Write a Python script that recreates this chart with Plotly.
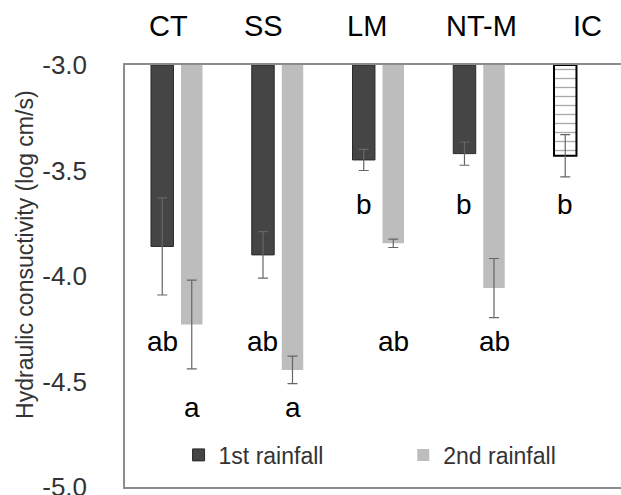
import plotly.graph_objects as go

categories = ["CT", "SS", "LM", "NT-M", "IC"]
first_rain = [-3.86, -3.90, -3.45, -3.42]
first_err = [0.23, 0.11, 0.05, 0.055]
second_rain = [-4.23, -4.445, -3.845, -4.057]
second_err = [0.21, 0.065, 0.02, 0.14]
ic_value = [-3.43]
ic_err = [0.10]
letters_first = ["ab", "ab", "b", "b", "b"]
letters_first_y = [-4.31, -4.31, -3.66, -3.66, -3.66]
letters_second = ["a", "a", "ab", "ab"]
letters_second_y = [-4.625, -4.625, -4.31, -4.31]
y_ticks = [-3.0, -3.5, -4.0, -4.5, -5.0]
y_tick_labels = ["-3.0", "-3.5", "-4.0", "-4.5", "-5.0"]
base_level = -3.0

FONT = "Liberation Sans, Arial, sans-serif"
DARK_W, DARK_OFF = 0.223, -0.263
LIGHT_W, LIGHT_OFF = 0.213, 0.035
idx = list(range(len(categories)))

fig = go.Figure()
err_style = dict(type="data", color="#666666", thickness=1.2, width=5)

fig.add_trace(go.Bar(
    x=idx[:4], y=[v - base_level for v in first_rain], base=base_level,
    name="1st rainfall", width=DARK_W, offset=DARK_OFF, legend="legend",
    marker=dict(color="#454545", line=dict(color="#2a2a2a", width=1)),
    error_y=dict(array=first_err, **err_style),
))
fig.add_trace(go.Bar(
    x=idx[:4], y=[v - base_level for v in second_rain], base=base_level,
    name="2nd rainfall", width=LIGHT_W, offset=LIGHT_OFF, legend="legend2",
    marker=dict(color="#bdbdbd", line=dict(width=0)),
    error_y=dict(array=second_err, **err_style),
))
fig.add_trace(go.Bar(
    x=idx[4:], y=[v - base_level for v in ic_value], base=base_level,
    name="IC", showlegend=False, width=DARK_W, offset=DARK_OFF,
    marker=dict(color="white", line=dict(color="black", width=2),
                pattern=dict(shape="-", fgcolor="#555555", bgcolor="white",
                             size=9, solidity=0.15)),
    error_y=dict(array=ic_err, **err_style),
))

annotations = []
cat_xshift = [-9, -15, -12, 2, 7]
for i, c in enumerate(categories):
    annotations.append(dict(x=i, y=1, xref="x", yref="paper", text=c,
                            showarrow=False, yshift=39, xshift=cat_xshift[i],
                            xanchor="center", yanchor="middle",
                            font=dict(family=FONT, size=29, color="black")))
for i, t in enumerate(letters_first):
    annotations.append(dict(x=i + DARK_OFF + DARK_W / 2, y=letters_first_y[i],
                            xref="x", yref="y", text=t, showarrow=False,
                            xanchor="center", yanchor="middle",
                            font=dict(family=FONT, size=28, color="black")))
for i, t in enumerate(letters_second):
    annotations.append(dict(x=i + LIGHT_OFF + LIGHT_W / 2, y=letters_second_y[i],
                            xref="x", yref="y", text=t, showarrow=False,
                            xanchor="center", yanchor="middle",
                            font=dict(family=FONT, size=28, color="black")))
annotations.append(dict(x=0, y=0.55, xref="paper", yref="paper",
                        text="Hydraulic consuctivity (log cm/s)", textangle=-90,
                        showarrow=False, xshift=-100, xanchor="center", yanchor="middle",
                        font=dict(family=FONT, size=23, color="#333333")))

legend_style = dict(orientation="h", yanchor="middle", xanchor="left", y=0.076,
                    font=dict(family=FONT, size=23, color="#333333"),
                    bgcolor="rgba(0,0,0,0)")

fig.update_layout(
    width=621, height=495,
    margin=dict(l=125, r=0, t=65, b=8, autoexpand=False),
    paper_bgcolor="white", plot_bgcolor="white",
    barmode="overlay",
    showlegend=True,
    legend=dict(x=0.108, **legend_style),
    legend2=dict(x=0.561, **legend_style),
    xaxis=dict(range=[-0.521, 4.402], showticklabels=False, ticks="",
               showgrid=False, zeroline=False, showline=True, mirror=True,
               linecolor="#8c8c8c", linewidth=1.5, type="linear", automargin=False),
    yaxis=dict(range=[-5.0, -3.0], tickvals=y_ticks, ticktext=y_tick_labels,
               showgrid=False, zeroline=False, showline=True,
               linecolor="#8c8c8c", linewidth=1.5, ticks="",
               ticklabelstandoff=31, ticklabeloverflow="allow", automargin=False,
               tickfont=dict(family=FONT, size=26, color="#333333")),
    annotations=annotations,
)

fig.write_html("out.html", config={"displayModeBar": False},
               post_script="document.body.style.margin='0';document.body.style.overflow='hidden';")
